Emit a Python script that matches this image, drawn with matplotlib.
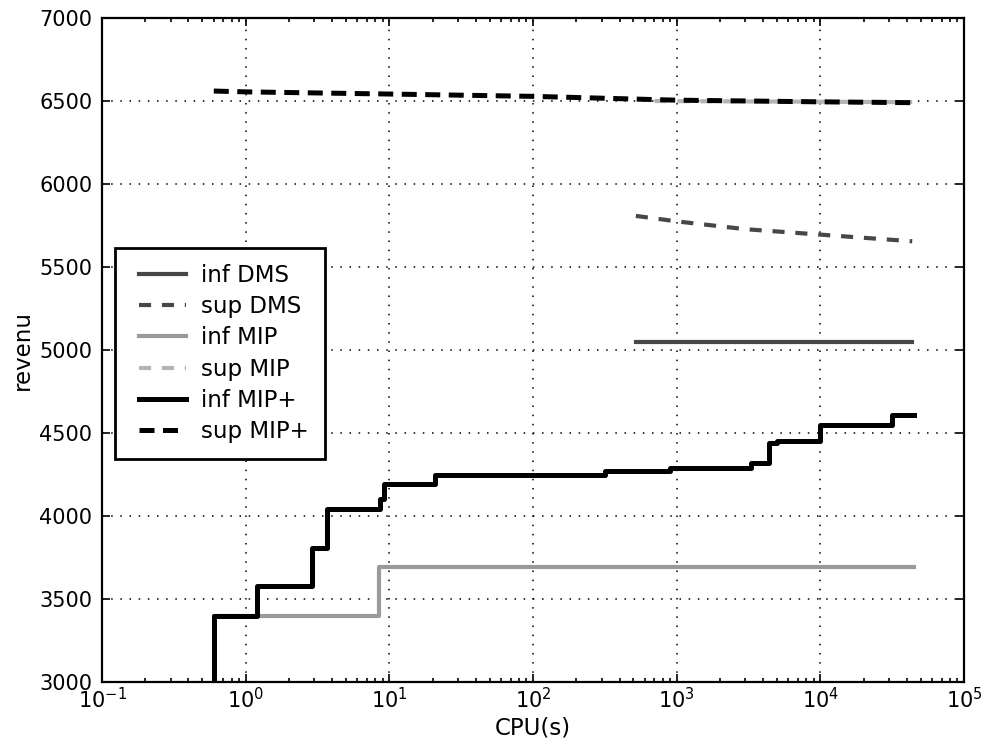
import matplotlib
matplotlib.use("Agg")
import matplotlib.pyplot as plt
from matplotlib.ticker import LogLocator
from matplotlib.legend_handler import HandlerLine2D

plt.rcParams["font.family"] = "DejaVu Sans"

# step data (CPU seconds, revenue)
inf_mipp_t = [0.6, 0.6, 1.2, 2.9, 3.7, 8.6, 9.2, 20.7, 316, 900, 3280, 4370, 5000, 10000, 31600, 45000]
inf_mipp_v = [2900, 3400, 3580, 3810, 4040, 4100, 4195, 4250, 4270, 4290, 4320, 4440, 4450, 4550, 4610, 4610]
sup_mipp_t = [0.6, 1, 10, 100, 1000, 10000, 43600]
sup_mipp_v = [6560, 6555, 6542, 6528, 6505, 6495, 6490]
inf_mip_t = [0.6, 8.5, 45000]
inf_mip_v = [3400, 3690, 3690]
sup_mip_t = [700, 43600]
sup_mip_v = [6500, 6493]
inf_dms_t = [520, 43600]
inf_dms_v = [5050, 5050]
sup_dms_t = [520, 1000, 3000, 10000, 43600]
sup_dms_v = [5808, 5775, 5728, 5695, 5655]

fig = plt.figure(figsize=(9.92, 7.44), dpi=100)
ax = fig.add_axes([0.1028, 0.0833, 0.869, 0.8925])

DK = "#474747"; LG = "#9a9a9a"; LLG = "#b4b4b4"
ax.plot(inf_dms_t, inf_dms_v, color=DK, lw=3.0, label="inf DMS", drawstyle="steps-post")
ax.plot(sup_dms_t, sup_dms_v, color=DK, lw=3.0, ls=(0, (2.9, 2.6)), label="sup DMS")
ax.plot(inf_mip_t, inf_mip_v, color=LG, lw=3.0, label="inf MIP", drawstyle="steps-post")
ax.plot(sup_mip_t, sup_mip_v, color=LLG, lw=3.0, ls=(0, (2.9, 2.6)), label="sup MIP")
ax.plot(inf_mipp_t, inf_mipp_v, color="black", lw=3.6, label="inf MIP+", drawstyle="steps-post")
ax.plot(sup_mipp_t, sup_mipp_v, color="black", lw=3.6, ls=(0, (3.0, 1.7)), label="sup MIP+")

ax.set_xscale("log")
ax.set_xlim(0.1, 1e5)
ax.set_ylim(3000, 7000)
ax.set_yticks(range(3000, 7001, 500))
ax.xaxis.set_major_locator(LogLocator(base=10, numticks=10))
ax.xaxis.set_minor_locator(LogLocator(base=10, subs=range(2, 10), numticks=100))
ax.grid(True, which="major", color="black", lw=1.1, ls=(0, (1, 5)))
ax.tick_params(which="both", direction="in", top=True, right=True, labelsize=15, width=1.2)
ax.tick_params(axis="y", pad=7)
ax.tick_params(which="major", length=6)
ax.tick_params(which="minor", length=3)
for s in ax.spines.values():
    s.set_linewidth(1.6)

ax.set_xlabel("CPU(s)", fontsize=16.5, labelpad=3)
ax.set_ylabel("revenu", fontsize=16.5, labelpad=4)

leg = ax.legend(loc="upper left", bbox_to_anchor=(0.015, 0.654), fontsize=16.5,
                fancybox=False, framealpha=1, borderaxespad=0, borderpad=0.7,
                handlelength=2.4, handletextpad=0.65, labelspacing=0.36,
                handler_map={plt.Line2D: HandlerLine2D(xpad=0.35)})
leg.get_frame().set_edgecolor("black")
leg.get_frame().set_linewidth(2)

fig.savefig("out.png", dpi=100)
